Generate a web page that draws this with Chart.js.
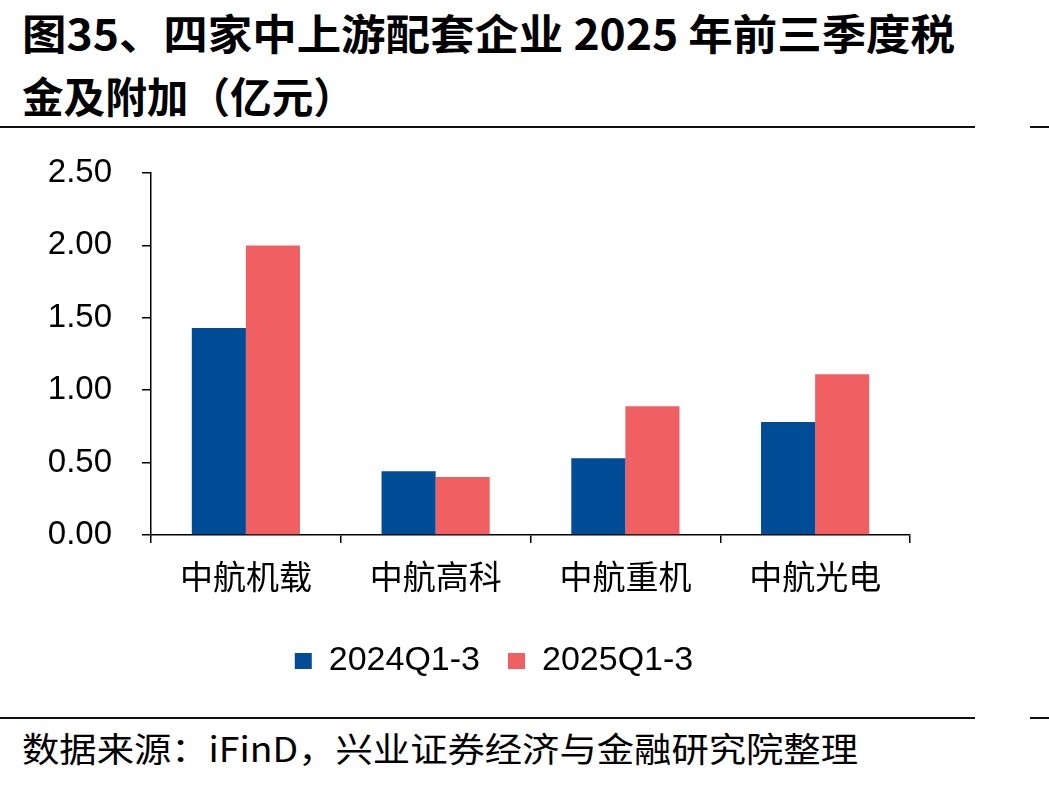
<!DOCTYPE html>
<html><head><meta charset="utf-8">
<script src="https://cdn.jsdelivr.net/npm/chart.js@4"></script>
<style>
html,body{margin:0;padding:0;background:#fff;}
#wrap{position:relative;width:1049px;height:785px;overflow:hidden;background:#fff;}
.t{position:absolute;left:22px;font-family:"Noto Sans CJK SC";font-weight:700;font-size:42px;line-height:1;white-space:nowrap;color:#000;transform-origin:left top;}
.rule{position:absolute;height:2px;background:#111;}
#src{position:absolute;left:22px;top:731px;font-family:"Noto Sans CJK SC";font-weight:400;font-size:34px;line-height:1;white-space:nowrap;color:#000;transform-origin:left top;}
#cv{position:absolute;left:0;top:140px;}
</style></head>
<body><div id="wrap">
<div class="t" id="t1" style="top:11px">图35、四家中上游配套企业 2025 年前三季度税</div>
<div class="t" id="t2" style="top:74px">金及附加（亿元）</div>
<div class="rule" style="left:0;width:975px;top:126px"></div>
<div class="rule" style="left:1030px;width:19px;top:126px"></div>
<div class="rule" style="left:0;width:975px;top:717px"></div>
<div class="rule" style="left:1030px;width:19px;top:717px"></div>
<div id="src">数据来源：iFinD，兴业证券经济与金融研究院整理</div>
<canvas id="cv" width="1049" height="560"></canvas>
</div>
<script>
const categories = ["中航机载", "中航高科", "中航重机", "中航光电"];
const series2024 = [1.43, 0.44, 0.53, 0.78];
const series2025 = [2.00, 0.40, 0.89, 1.11];
const seriesNames = ["2024Q1-3", "2025Q1-3"];
const yTicks = [0, 0.5, 1.0, 1.5, 2.0, 2.5];

function fitWidth(id, target){
  const el = document.getElementById(id);
  const w = el.getBoundingClientRect().width;
  el.style.transform = 'scaleX(' + (target / w) + ')';
}
fitWidth('t1', 933);
fitWidth('t2', 333);
fitWidth('src', 836);

const numFont = {family: '"Liberation Sans", Arial, sans-serif', size: 33};
const legFont = {family: '"Liberation Sans", Arial, sans-serif', size: 34};
const cjkFont = {family: '"Noto Sans CJK SC", sans-serif', size: 33};

new Chart(document.getElementById('cv'), {
  type: 'bar',
  data: {
    labels: categories,
    datasets: [
      {label: seriesNames[0], data: series2024, backgroundColor: '#004C97', categoryPercentage: 0.57, barPercentage: 1.0, yAxisID: 'y'},
      {label: seriesNames[1], data: series2025, backgroundColor: '#F06062', categoryPercentage: 0.57, barPercentage: 1.0, yAxisID: 'y'}
    ]
  },
  options: {
    responsive: false,
    animation: false,
    devicePixelRatio: 1,
    layout: {padding: {left: 0, right: 61, top: 33, bottom: 12}},
    plugins: {
      tooltip: {enabled: false},
      legend: {
        position: 'bottom',
        labels: {boxWidth: 17, boxHeight: 16, padding: 28, color: '#000', font: legFont}
      }
    },
    scales: {
      x: {
        grid: {display: true, drawOnChartArea: false, drawTicks: true, tickLength: 8, color: '#000', lineWidth: 1.5, offset: true},
        border: {display: true, color: '#000', width: 1.5},
        ticks: {color: '#000', font: cjkFont, padding: 14, maxRotation: 0},
        afterFit: s => { s.height = 81; }
      },
      y: {
        min: 0, max: 2.5,
        afterBuildTicks: s => { s.ticks = yTicks.map(v => ({value: v})); },
        grid: {display: true, drawOnChartArea: false, drawTicks: true, tickLength: 9, color: '#000', lineWidth: 1.5},
        border: {display: true, color: '#000', width: 1.5},
        ticks: {color: '#000', font: numFont, padding: 30, callback: v => Number(v).toFixed(2)},
        afterFit: s => { s.width = 151; s.paddingTop = 0; s.paddingBottom = 0; }
      },
      y2: {
        position: 'right',
        display: true,
        grid: {display: false, drawTicks: false},
        border: {display: false},
        ticks: {display: false},
        afterFit: s => { s.width = 78; s.paddingTop = 0; s.paddingBottom = 0; }
      }
    }
  }
});
</script>
</body></html>
